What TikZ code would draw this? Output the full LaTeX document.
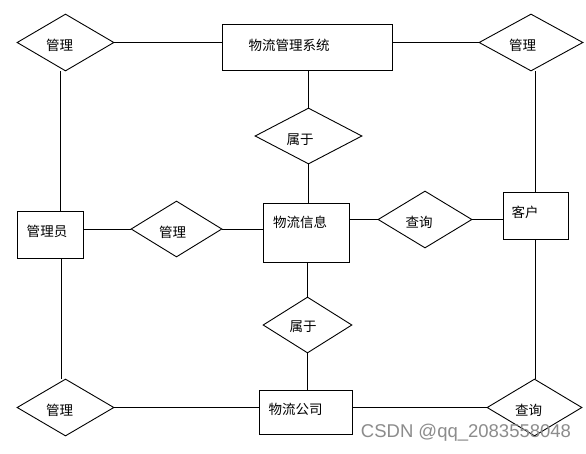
\documentclass[tikz,border=0pt]{standalone}
\usepackage{fontspec}
\newfontfamily\cjk{Noto Sans CJK SC}
\newfontfamily\wmfont{Liberation Sans}
\usetikzlibrary{shapes.geometric}
\begin{document}
\begin{tikzpicture}[x=1pt,y=-1pt,
  ent/.style={draw,line width=0.9pt,rectangle,inner sep=0pt},
  rel/.style={draw,line width=0.9pt,diamond,inner sep=0pt},
  lbl/.style={font=\cjk\fontsize{13.5}{14}\selectfont,inner sep=0pt},
  link/.style={line width=0.9pt}]
\useasboundingbox[fill=white] (0,0) rectangle (586,453);
% entities
\node[ent,minimum width=170,minimum height=46] (s) at (307,47) {};
\node[ent,minimum width=66,minimum height=47] (m) at (50,234.5) {};
\node[ent,minimum width=86,minimum height=59] (info) at (306,232.5) {};
\node[ent,minimum width=65,minimum height=47] (k) at (535.5,215.5) {};
\node[ent,minimum width=93,minimum height=44] (co) at (305.5,412) {};
% relations
\node[rel,minimum width=97,minimum height=57] (d1) at (65.5,42.5) {};
\node[rel,minimum width=104,minimum height=57] (d2) at (531,42.5) {};
\node[rel,minimum width=107,minimum height=56] (d3) at (308.5,136) {};
\node[rel,minimum width=91,minimum height=56] (d4) at (176.5,229) {};
\node[rel,minimum width=94,minimum height=57] (d5) at (425,219.5) {};
\node[rel,minimum width=89,minimum height=56] (d6) at (307.5,325) {};
\node[rel,minimum width=97,minimum height=57] (d7) at (65.5,407.5) {};
\node[rel,minimum width=95,minimum height=57] (d8) at (534.5,407.5) {};
% labels
\node[lbl] (ts) at (289,45) {物流管理系统};
\node[lbl] (tm) at (47,231) {管理员};
\node[lbl] (tinfo) at (300,222) {物流信息};
\node[lbl] (tk) at (525,212) {客户};
\node[lbl] (tco) at (295.5,409) {物流公司};
\node[lbl] (t1) at (59.5,45) {管理};
\node[lbl] (t2) at (522.5,45) {管理};
\node[lbl] (t3) at (300,140) {属于};
\node[lbl] (t4) at (172.5,232) {管理};
\node[lbl] (t5) at (419,222) {查询};
\node[lbl] (t6) at (303,327) {属于};
\node[lbl] (t7) at (59.5,410) {管理};
\node[lbl] (t8) at (528.5,410) {查询};
% connectors
\draw[link] (d1.east) -- (d1.east -| s.west);
\draw[link] (d2.west -| s.east) -- (d2.west);
\draw[link] (d3.north |- s.south) -- (d3.north);
\draw[link] (d3.south) -- (d3.south |- info.north);
\draw[link] (d4.west -| m.east) -- (d4.west);
\draw[link] (d4.east) -- (d4.east -| info.west);
\draw[link] (d5.west -| info.east) -- (d5.west);
\draw[link] (d5.east) -- (d5.east -| k.west);
\draw[link] (k.north) -- (k.north |- d2.south);
\draw[link] (k.south) -- (k.south |- d8.north);
\draw[link] (d6.north |- info.south) -- (d6.north);
\draw[link] (d6.south) -- (d6.south |- co.north);
\draw[link] (d7.east) -- (d7.east -| co.west);
\draw[link] (d8.west -| co.east) -- (d8.west);
\draw[link] ([xshift=-5.5pt]d1.south) -- ([xshift=-5.5pt]d1.south |- m.north);
\draw[link] ([xshift=11pt]m.south) -- ([xshift=11pt]m.south |- d7.north);
% watermark
\node[font=\wmfont\fontsize{18.5}{20}\selectfont,text=black!45,inner sep=0pt] (wm) at (466,433) {CSDN @qq\_2083558048};
\end{tikzpicture}
\end{document}
